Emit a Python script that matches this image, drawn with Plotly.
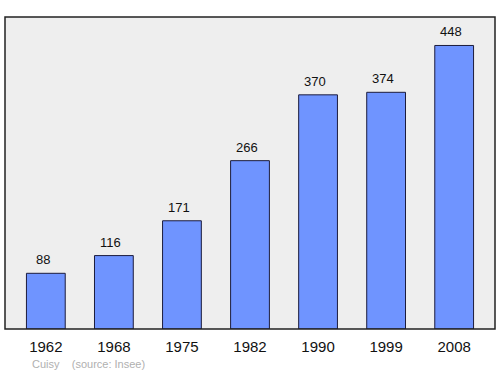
import plotly.graph_objects as go

years = ["1962", "1968", "1975", "1982", "1990", "1999", "2008"]
population = [88, 116, 171, 266, 370, 374, 448]
footer_text = "Cuisy    (source: Insee)"

fig = go.Figure()
fig.add_trace(go.Bar(
    x=list(range(len(years))), y=population,
    width=0.57,
    marker=dict(color="#6f94ff", line=dict(color="#1c1c3c", width=1)),
    hoverinfo="skip",
))
for i, v in enumerate(population):
    fig.add_annotation(x=i, y=v, text=str(v), showarrow=False,
                       yanchor="bottom", yshift=4, xshift=-3,
                       font=dict(size=13, color="#111111"))
fig.add_annotation(x=0.052, y=-0.112, xref="paper", yref="paper",
                   text=footer_text, showarrow=False, xanchor="left", yanchor="middle",
                   font=dict(size=11, color="#b0b0b0"))
fig.add_shape(type="rect", xref="paper", yref="paper", x0=0, y0=0, x1=1, y1=1,
              line=dict(color="#222222", width=1.5))
fig.update_layout(
    width=500, height=374,
    margin=dict(l=5, r=5, t=17, b=45),
    paper_bgcolor="white", plot_bgcolor="#eeeeee",
    font=dict(family="Liberation Sans, Arial, sans-serif"),
    showlegend=False,
    xaxis=dict(range=[-0.6, 6.6], tickvals=list(range(len(years))), ticktext=years,
               showgrid=False, zeroline=False, ticks="", ticklabelstandoff=7,
               tickfont=dict(size=15, color="#111111")),
    yaxis=dict(range=[0, 493], visible=False, showgrid=False, zeroline=False),
)
fig.write_html("out.html")
